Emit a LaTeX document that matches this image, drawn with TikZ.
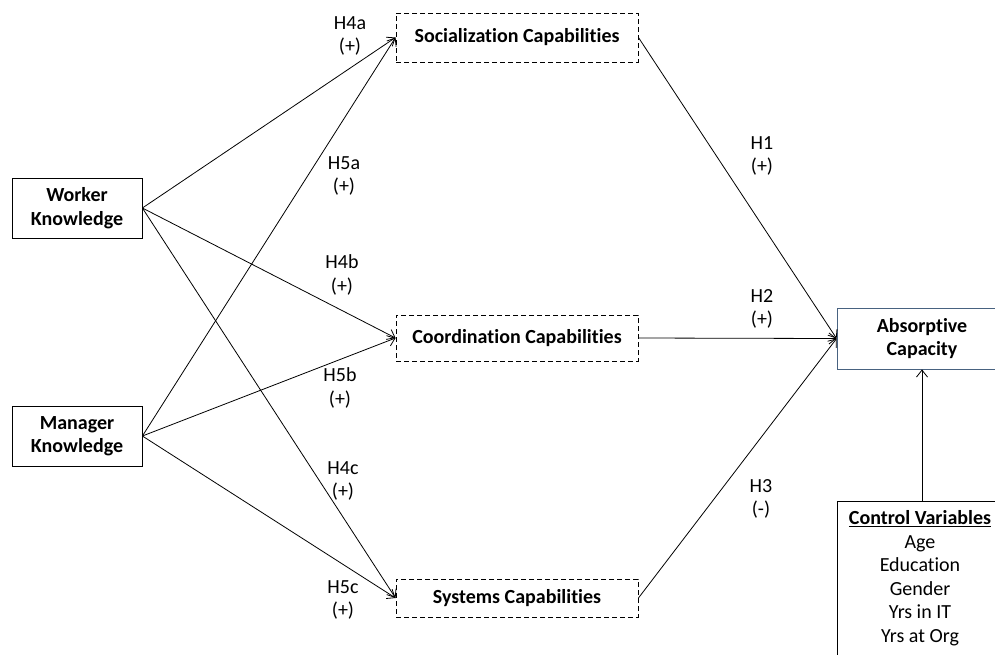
\documentclass[tikz,border=0pt]{standalone}
\usepackage{fontspec}
\setmainfont[Ligatures=NoCommon]{Carlito}
\usepackage{xcolor}
\usepackage{tikz}
\usetikzlibrary{arrows.meta}

\definecolor{acblue}{RGB}{72,98,128}
\newcommand{\diafont}{\fontsize{20}{23.5}\selectfont}

\tikzset{
	knowbox/.style={draw, line width=0.8pt, minimum width=130pt, minimum height=60pt, align=center, font=\diafont\bfseries},
	capbox/.style={draw, dashed, dash pattern=on 5pt off 3pt, line width=0.9pt, minimum width=242pt, font=\diafont\bfseries},
	hyp/.style={align=center, font=\diafont},
	arr/.style={line width=0.8pt, -{Straight Barb[length=7pt,width=11pt]}}
}

\begin{document}
\begin{tikzpicture}[x=1pt, y=-1pt]
			\clip (0,0) rectangle (995,654);
			\fill[white] (0,0) rectangle (995,654);
			
			\node[knowbox] (wk) at (77,208) {Worker\\Knowledge};
			\node[knowbox] (mk) at (77,436) {Manager\\Knowledge};
			
			\node[capbox, minimum height=49pt] (soc) at (517,37.5) {Socialization Capabilities};
			\node[capbox, minimum height=46pt] (coord) at (517,338) {Coordination Capabilities};
			\node[capbox, minimum height=38pt] (sys) at (517,598) {Systems Capabilities};
			
			\node[draw=acblue, line width=0.8pt, minimum width=170pt, minimum height=61pt, align=center, font=\diafont\bfseries] (ac) at (922,338.5) {Absorptive\\Capacity};
			
			% control variables box runs past the edge
			\node[draw, line width=0.8pt, minimum width=170pt, minimum height=220pt, anchor=north] (cvbox) at (922,501) {};
			\node[align=center, font=\diafont] (cv) at (920,578) {\textbf{\underline{Control Variables}}\\Age\\Education\\Gender\\Yrs in IT\\Yrs at Org};
			
			\draw[arr] (wk.east) -- (soc.west);
			\draw[arr] (wk.east) -- (coord.west);
			\draw[arr] (wk.east) -- (sys.west);
			\draw[arr] (mk.east) -- (soc.west);
			\draw[arr] (mk.east) -- (coord.west);
			\draw[arr] (mk.east) -- (sys.west);
			
			\draw[arr] (soc.east) -- (ac.west);
			\draw[arr] (coord.east) -- (ac.west);
			\draw[arr] (sys.east) -- (ac.west);
			\draw[arr] (cvbox.north) -- (ac.south);
			
			\node[hyp] (h4a) at (350,36) {H4a\\(+)};
			\node[hyp] (h5a) at (344,176) {H5a\\(+)};
			\node[hyp] (h4b) at (342,275) {H4b\\(+)};
			\node[hyp] (h5b) at (340,388) {H5b\\(+)};
			\node[hyp] (h4c) at (343,481) {H4c\\(+)};
			\node[hyp] (h5c) at (343,600) {H5c\\(+)};
			
			\node[hyp] (h1) at (762,156) {H1\\(+)};
			\node[hyp] (h2) at (762,309) {H2\\(+)};
			\node[hyp] (h3) at (761,499) {H3\\(-)};
		\end{tikzpicture}
\end{document}
